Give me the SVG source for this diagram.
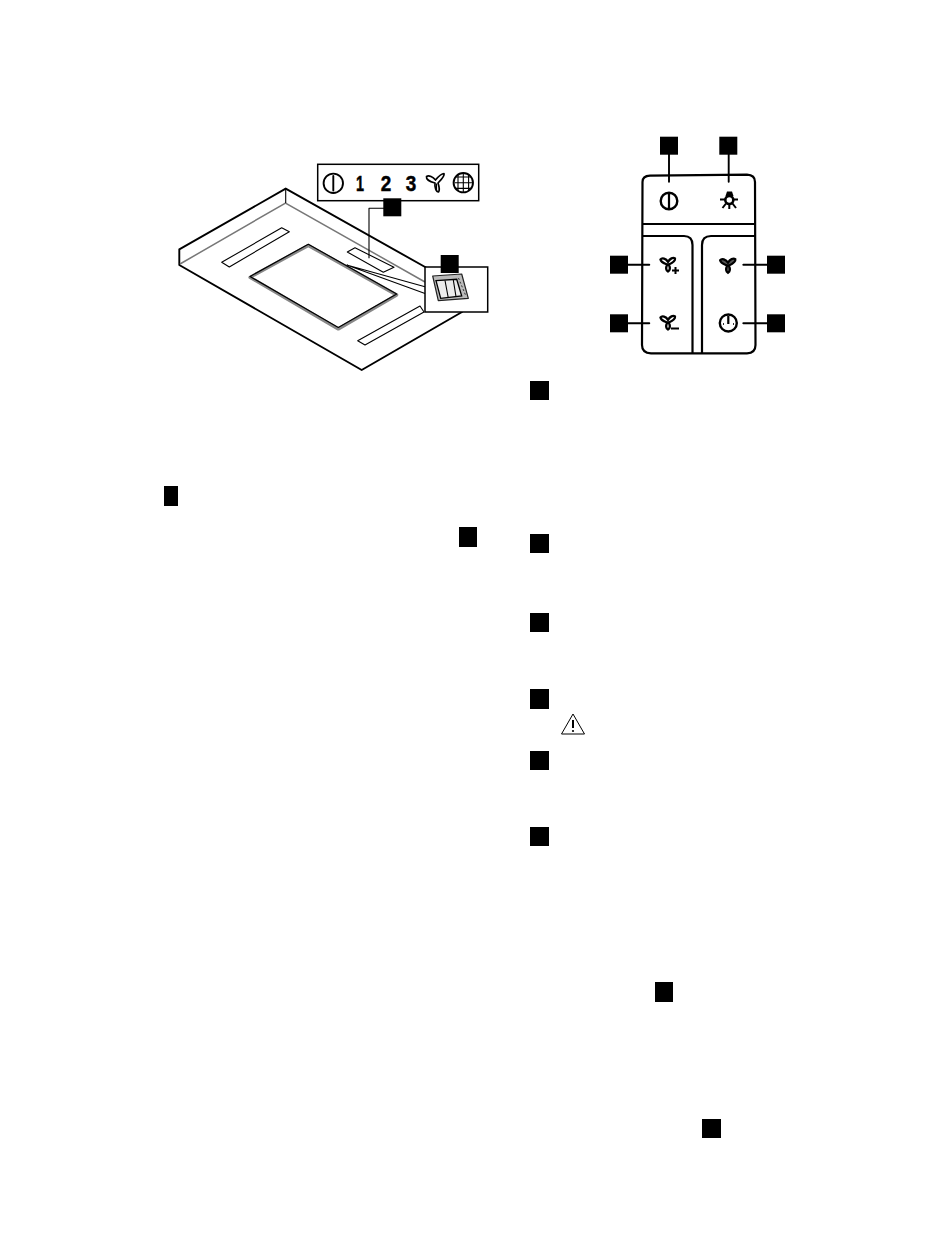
<svg xmlns="http://www.w3.org/2000/svg" width="950" height="1244" viewBox="0 0 950 1244">
<style>
.k{fill:none;stroke:#000;stroke-width:1.9;stroke-linejoin:round;stroke-linecap:round}
.t{fill:none;stroke:#000;stroke-width:1.1;stroke-linejoin:round}
.g{fill:none;stroke:#777;stroke-width:1.5}
.p{fill:none;stroke:#000;stroke-width:2.2;stroke-linejoin:round}
.s{fill:#000}
.n{font-family:"Liberation Sans",Arial,sans-serif;font-weight:700;font-size:22px;fill:#000;stroke:#000;stroke-width:0.5;text-anchor:middle}
</style>
<defs>
<path id="fan" d="M-0.8,0.5C-3,-0.5 -7,-1.5 -7.5,-4.5C-6,-6.5 -2,-5.5 0,-2.2C2,-5.5 5,-7 7,-5.5C7.5,-3 3,-0.5 0.8,0.5C2,3 2.5,6 0,7.5C-2.5,6 -2,3 -0.8,0.5Z"/>
</defs>
<rect width="950" height="1244" fill="#fff"/>

<g id="hood">
<path class="k" d="M285.7,188.7L179.3,249.3V265L361.7,370L462,312"/>
<path class="k" d="M285.7,188.7L426,267.5"/>
<path class="g" d="M180,264L285.5,203L425,282"/>
<path class="t" d="M285.7,188.7V203"/>
<path class="t" d="M281.7,227.7L289.3,231.7L229.3,267L221.7,262.3Z"/>
<path class="t" d="M420,306L424,312L365,345L357.7,340.7Z"/>
<path d="M308.3,245.5L396.7,295L338.3,329L250,277.3Z" fill="none" stroke="#888" stroke-width="3.2" stroke-linejoin="round"/>
<path d="M308.3,244.2L396.7,294L338.3,327.5L250,276.5Z" fill="none" stroke="#000" stroke-width="1.2" stroke-linejoin="round"/>
<path class="t" d="M355,247.7L394,267.3L383.3,272.3L347.3,252Z"/>
<path class="t" d="M346.7,265L425,286.7M346.7,265L425,293.5"/>
</g>

<g id="symbol-strip">
<rect x="317.7" y="164.3" width="161" height="36.4" fill="#fff" stroke="#000" stroke-width="1.5"/>
<circle class="k" cx="333.3" cy="183.3" r="9.7"/>
<path class="k" d="M333.3,176V190.5"/>
<text class="n" x="360" y="191" textLength="8" lengthAdjust="spacingAndGlyphs">1</text>
<text class="n" x="386" y="191" textLength="10.5" lengthAdjust="spacingAndGlyphs">2</text>
<text class="n" x="411" y="191" textLength="10.5" lengthAdjust="spacingAndGlyphs">3</text>
<path d="M435,183C431,182 426,180 426.5,176.5C429,175 433,177 435.5,180C438,177 441,173.5 444,173.5C445,176 441,180 438,183C439,186 440,190 438.5,192C436,192 434.5,187 435,183Z" fill="#fff" stroke="#000" stroke-width="1.7" stroke-linejoin="round"/>
<path d="M436.5,183.5V191" stroke="#000" stroke-width="1.2"/>
<circle class="k" cx="463.3" cy="182.7" r="9.7"/>
<path class="t" d="M456,177H470.6M454.5,182.7H472.1M456,188.4H470.6M458,174.5V191M463.3,173V192.4M468.6,174.5V191"/>
</g>

<g id="callout-switch">
<rect x="425" y="267" width="62.7" height="45" fill="#fff" stroke="#000" stroke-width="1.5"/>
<path d="M432.7,276L461.7,274L468.3,298.3L438.3,300.7Z" fill="#bbb" stroke="#222" stroke-width="1.2" stroke-linejoin="round"/>
<path d="M436,280.7L456.7,279.3L461.7,296L440.7,298.3Z" fill="#ececec" stroke="#000" stroke-width="1.3"/>
<path class="t" d="M445,280.5L448.3,298M453.3,280L456,296.7"/>
<path d="M458.5,278L465.5,295" stroke="#333" stroke-width="1" stroke-dasharray="2 2" fill="none"/>
</g>

<g id="connectors">
<path class="t" stroke-width="1.4" d="M384,208.3H369V258.3"/>
<path class="k" d="M669,154V181.7M728.7,154V181.7M627,264.7H649.3M627,323.3H649.3M743.3,264.7H768M743.3,323.3H768"/>
</g>

<g id="control-panel">
<path class="p" d="M650,175.7L747,174.7Q755,175 755,182L755.5,345Q755.5,353 747,353.3H651Q642,353 642,345L642.5,182Q642.5,176 650,175.7Z"/>
<path class="p" d="M642.5,224H755M642.5,236H684Q692.5,236 692.5,245V353M702,353V245Q702,236 711,236H755"/>
</g>

<g id="icon-power"><circle cx="669" cy="201" r="8.3" fill="none" stroke="#000" stroke-width="2.4"/><path class="p" d="M669,194V208"/></g>
<g id="icon-lamp"><path d="M725.5,196L727,191.5H732L733.5,196Z" fill="#000"/><circle cx="729.3" cy="200" r="4" fill="#fff" stroke="#000" stroke-width="2.6"/><path d="M720,199.5H725M733.5,199.5H738M726,203.5L722.5,208M732.5,203.5L736,208M729.3,204V209" fill="none" stroke="#000" stroke-width="2"/></g>
<g id="icon-fan-plus"><use href="#fan" transform="translate(668 264)" fill="#fff" stroke="#000" stroke-width="2.3"/><path d="M672,270.5H679M675.5,267V274" fill="none" stroke="#000" stroke-width="2"/></g>
<g id="icon-fan-minus"><use href="#fan" transform="translate(668 322)" fill="#fff" stroke="#000" stroke-width="2.3"/><path d="M671,328.5H679" fill="none" stroke="#000" stroke-width="2"/></g>
<g id="icon-fan"><use href="#fan" transform="translate(728 265) scale(1.05)" fill="#555" stroke="#000" stroke-width="2.1"/></g>
<g id="icon-timer"><circle cx="728.3" cy="323" r="8.5" fill="none" stroke="#000" stroke-width="2.4"/><path d="M728.3,316V324M723,324H723.8M733,324H733.8" fill="none" stroke="#000" stroke-width="2.2"/></g>

<g id="markers">
<rect class="s" x="383.3" y="198.3" width="18" height="18"/>
<rect class="s" x="440.7" y="255" width="18" height="18"/>
<rect class="s" x="660" y="136.7" width="18" height="18"/>
<rect class="s" x="719.3" y="136.7" width="18" height="18"/>
<rect class="s" x="610" y="255.7" width="18" height="18"/>
<rect class="s" x="610" y="314.3" width="18" height="18"/>
<rect class="s" x="767" y="255.7" width="18" height="18"/>
<rect class="s" x="767" y="314.3" width="18" height="18"/>
<rect class="s" x="530" y="381" width="19" height="19"/>
<rect class="s" x="530" y="534" width="19" height="19"/>
<rect class="s" x="530" y="613" width="19" height="19"/>
<rect class="s" x="530" y="689" width="19" height="20"/>
<rect class="s" x="530" y="751" width="19" height="19"/>
<rect class="s" x="530" y="827" width="19" height="19"/>
<rect class="s" x="164" y="486" width="14" height="20"/>
<rect class="s" x="459" y="527" width="18" height="20"/>
<rect class="s" x="655" y="982" width="18" height="20"/>
<rect class="s" x="702" y="1119" width="19" height="19"/>
</g>

<g id="warning">
<path d="M573,714L584.5,734H561.5Z" fill="#fff" stroke="#000" stroke-width="1" stroke-linejoin="round"/>
<path d="M573,720V728" stroke="#000" stroke-width="2"/>
<circle cx="573" cy="731" r="1.1" fill="#000"/>
</g>
</svg>
